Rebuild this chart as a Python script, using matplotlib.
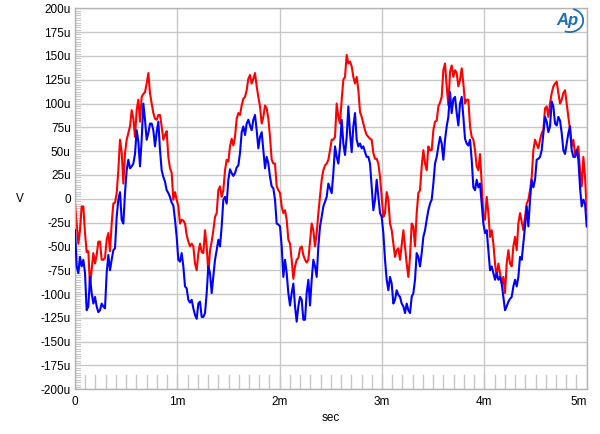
import numpy as np
import matplotlib
matplotlib.use("Agg")
import matplotlib.pyplot as plt
from matplotlib.patches import Arc

plt.rcParams['font.family'] = ['Liberation Sans', 'DejaVu Sans']

# ---- data (microvolts), sampled uniformly over 0 .. 5 ms ----
t_end_ms = 5.0

red_a = [-5, -26, -47, -33, -8, -8, -36, -56, -55, -92, -75, -57, -68, -59, -45, -45,
         -64, -64, -62, -43, -36, -55, -26, -5, -4, 6, 30, 62, 49, 16, 48, 62, 69, 76,
         93, 84, 65, 93, 104, 81, 107, 110, 112, 121, 132, 111, 100, 90, 84, 83, 88, 88,
         76, 62, 67, 71, 44, 32, 27, -1, 7, -1, -8, -26, -22, -23, -26, -38, -45, -50,
         -47, -50, -68, -75, -57, -47]
red_b = [-56, -57, -33, -50, -78, -54, -45, -33, -19, -15, 9, 13, 2, 9, 30, 41, 39, 55,
         63, 56, 65, 84, 90, 88, 98, 105, 107, 114, 126, 130, 121, 126, 132, 118, 107,
         97, 79, 86, 98, 95, 84, 65, 41, 37, 37, 13, 9, 6, -8, -15, -12, -22, -43, -47,
         -64, -84, -71, -64, -62, -52, -50, -59, -64, -67, -64, -45, -26, -33, -50, -36,
         -15, 2, 20, 30, 35]
red_c = [37, 41, 51, 62, 62, 65, 100, 86, 79, 104, 125, 128, 151, 142, 144, 139, 128,
         121, 128, 114, 91, 86, 79, 72, 67, 65, 63, 62, 48, 42, 42, 37, 23, 2, -19, -15,
         7, -1, -26, -33, -47, -61, -54, -52, -64, -49, -33, -50, -68, -82, -61, -26,
         -29, -50, -15, 6, 9, 34, 51, 37, 30, 55, 51, 51, 72, 81, 82, 97, 101, 107, 135,
         142, 118, 98]
red_d = [133, 140, 128, 135, 132, 118, 125, 137, 121, 100, 104, 104, 76, 65, 62, 51,
         34, 30, 47, 16, -19, -22, 2, -15, -40, -33, -47, -68, -82, -68, -78, -89, -82,
         -99, -68, -54, -68, -71, -50, -40, -54, -26, -15, -24, -33, -19, -5, -1, 9, 23,
         51, 62, 57, 53, 62, 69, 72, 95, 97, 86, 100, 111, 118, 121, 123, 111, 100, 104,
         111, 114, 100, 86, 72, 55, 62, 47, 51, 55, 30, 13, 44, 23, -12]

blue_a = [-33, -71, -78, -61, -71, -64, -78, -117, -113, -82, -99, -110, -103, -113,
          -119, -117, -110, -113, -115, -78, -59, -75, -64, -54, -52, -19, -1, 7, -22,
          -26, 6, 30, 41, 32, 34, 37, 47, 72, 60, 34, 62, 100, 83, 62, 69, 79, 79, 72,
          55, 70, 81, 51, 30, 23, 18, 9, 6, 2, -4, -7, -22, -40, -64, -66, -57, -71,
          -92, -94, -106, -109, -106, -115, -122, -126, -110, -108]
blue_b = [-124, -124, -120, -99, -71, -78, -99, -82, -64, -54, -43, -50, -29, -1, 2,
          -5, 20, 31, 27, 24, 27, 33, 35, 48, 70, 76, 67, 79, 83, 77, 72, 83, 88, 72,
          53, 65, 70, 51, 32, 44, 37, 23, 13, 11, -1, -26, -27, -29, -50, -82, -64, -78,
          -99, -112, -99, -89, -113, -129, -113, -103, -106, -127, -127, -99, -85, -112,
          -85, -64, -71, -82, -50, -29, -19, -8, -3]
blue_c = [2, 16, 11, 6, 27, 55, 44, 37, 55, 83, 58, 46, 65, 97, 69, 49, 76, 90, 62, 55,
          58, 53, 55, 49, 44, 44, 37, 13, -12, -1, 20, 2, -15, -19, -36, -64, -85, -96,
          -82, -89, -110, -106, -96, -101, -103, -110, -113, -120, -110, -117, -120,
          -103, -99, -85, -57, -61, -71, -57, -40, -33, -22, -12, -5, -1, 16, 37, 44, 55,
          65, 58, 41, 62, 76, 86]
blue_d = [112, 90, 105, 107, 90, 77, 100, 107, 86, 63, 58, 56, 62, 41, 12, 9, 20, 12,
          16, -5, -26, -36, -33, -54, -75, -71, -78, -85, -78, -85, -82, -89, -103, -117,
          -113, -108, -105, -103, -92, -85, -92, -82, -61, -64, -47, -29, -8, -29, -1, 20,
          12, 20, 41, 42, 44, 51, 69, 86, 81, 70, 76, 102, 97, 79, 77, 86, 82, 69, 51, 47,
          58, 69, 76, 51, 44, 44, 51, 41, 12, -8, -1, -5, -29]

red_uv = np.array(red_a + red_b + red_c + red_d, dtype=float)
blue_uv = np.array(blue_a + blue_b + blue_c + blue_d, dtype=float)
t_red = np.linspace(0, t_end_ms, len(red_uv))
t_blue = np.linspace(0, t_end_ms, len(blue_uv))

y_ticks = list(range(-200, 201, 25))
y_labels = [("0" if v == 0 else f"{v}u") for v in y_ticks]
x_ticks = [0, 1, 2, 3, 4, 5]
x_labels = ["0", "1m", "2m", "3m", "4m", "5m"]

# ---- figure ----
fig = plt.figure(figsize=(6.0, 4.34), dpi=100)
ax = fig.add_axes([75 / 600, 1 - 389.3 / 434, (586.7 - 75) / 600, (389.3 - 8.3) / 434])

grid_c = "#c8c8c8"
for v in y_ticks:
    ax.axhline(v, color=grid_c, lw=1.0, zorder=1)
for v in x_ticks:
    ax.axvline(v, color=grid_c, lw=1.0, zorder=1)

# inner minor ticks along bottom and left
for xm in np.arange(0.1, 5.0, 0.1):
    ax.plot([xm, xm], [-200, -185.5], color=grid_c, lw=1.0, zorder=1)
for ym in np.arange(-200, 200.01, 2.5):
    ax.plot([0, 0.05], [ym, ym], color=grid_c, lw=0.8, zorder=1)

ax.plot(t_blue, blue_uv, color="#0000ff", lw=1.5, zorder=3)
ax.plot(t_red, red_uv, color="#ff0000", lw=1.5, zorder=2)

ax.set_xlim(0, 5)
ax.set_ylim(-200, 200)
ax.set_yticks(y_ticks)
ax.set_yticklabels(y_labels)
ax.set_xticks(x_ticks)
ax.set_xticklabels(x_labels)
ax.tick_params(axis="both", length=0, labelsize=8.5, colors="black", pad=3)
ax.tick_params(axis="x", pad=5)
lbls = ax.get_xticklabels()
lbls[-1].set_horizontalalignment("right")

for s in ax.spines.values():
    s.set_color("#b4b4b4")
    s.set_linewidth(1.0)

fig.text(20 / 600, 1 - 198.5 / 434, "V", fontsize=8.5, ha="center", va="center")
fig.text(331 / 600, 1 - 418 / 434, "sec", fontsize=8.5, ha="center", va="center")

# AP logo
logo_c = "#1a6fb5"
fig.text(567 / 600, 1 - 21 / 434, "Ap", fontsize=12, fontstyle="italic",
         fontweight="bold", color=logo_c, ha="center", va="center")
arc_ax = fig.add_axes([552 / 600, 1 - 34 / 434, 32 / 600, 26 / 434])
arc_ax.set_xlim(-1, 1)
arc_ax.set_ylim(-1, 1)
arc_ax.axis("off")
arc_ax.add_patch(Arc((0.1, 0.05), 1.7, 1.8, theta1=-110, theta2=75, color=logo_c, lw=1.3))

fig.savefig("out.png", dpi=100)
